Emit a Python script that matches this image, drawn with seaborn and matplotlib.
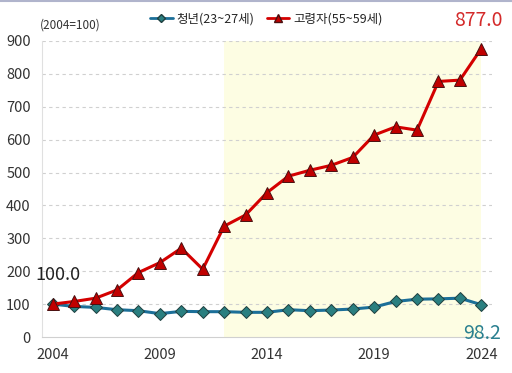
import numpy as np
import pandas as pd
import matplotlib
matplotlib.use("Agg")
import matplotlib.pyplot as plt
import seaborn as sns
from matplotlib.lines import Line2D

# -------------------------------
# DATOS (2004=100)

years = list(range(2004, 2025))
youth = [100.0, 93, 90, 83, 80, 71, 78, 77, 77, 75, 75, 83, 80, 82, 85, 91,
         108, 115, 116, 118, 98.2]
elderly = [100.0, 108, 118, 143, 196, 226, 270, 206, 337, 371, 439, 489, 507,
           522, 546, 614, 639, 629, 777, 781, 877.0]
series_names = ["청년(23~27세)", "고령자(55~59세)"]
year_labels = ["2004", "2009", "2014", "2019", "2024"]
yticks = list(range(0, 1000, 100))

df = pd.DataFrame({
    "idx": list(range(len(years))) * 2,
    "value": youth + elderly,
    "group": [series_names[0]] * len(years) + [series_names[1]] * len(years),
})

# -------------------------------
# GRÁFICA

sns.set_style("white")
plt.rcParams["font.family"] = ["Noto Sans CJK KR", "DejaVu Sans"]

blue_line = "#1c6f98"
blue_mark = "#2a7f80"
red_line = "#d40000"
red_mark = "#c00000"

fig = plt.figure(figsize=(5.12, 3.73), dpi=100)
ax = fig.add_axes([0.082, 0.0965, 0.879, 0.7936])

# zona sombreada 2012-2024
ax.axvspan(8, 20, ymin=0, ymax=1, color="#fdfde3", zorder=0, lw=0)

sns.lineplot(data=df[df.group == series_names[0]], x="idx", y="value", ax=ax,
             color=blue_line, lw=2.2, marker="D", markersize=6,
             markerfacecolor=blue_mark, markeredgecolor="#1f3f3f",
             markeredgewidth=0.7, zorder=3, legend=False)
sns.lineplot(data=df[df.group == series_names[1]], x="idx", y="value", ax=ax,
             color=red_line, lw=2.2, marker="^", markersize=8,
             markerfacecolor=red_mark, markeredgecolor="#4a1010",
             markeredgewidth=0.7, zorder=4, legend=False)

ax.set_xlim(-0.5, 20.5)
ax.set_ylim(0, 900)
ax.set_yticks(yticks)
ax.set_yticklabels([str(v) for v in yticks], fontsize=10.5, color="#333333")
ax.set_xticks([years.index(int(y)) for y in year_labels])
ax.set_xticklabels(year_labels, fontsize=10.5, color="#333333")
ax.set_xticks(np.arange(-0.5, 21, 1), minor=True)
ax.tick_params(axis="x", which="major", length=0, pad=8)
ax.tick_params(axis="x", which="minor", length=4, color="#d0d0d0", width=0.8)
ax.tick_params(axis="y", length=0, pad=8)
ax.set_xlabel("")
ax.set_ylabel("")

for v in yticks[1:]:
    ax.axhline(v, color="#d0d0d0", lw=0.8, ls=(0, (3, 3)), zorder=1)

for s in ["top", "right"]:
    ax.spines[s].set_visible(False)
ax.spines["left"].set_color("#e0e0e0")
ax.spines["bottom"].set_color("#d0d0d0")

# etiquetas
ax.text(-0.83, 188, "100.0", fontsize=13, color="#222222", ha="left", va="center")
fig.text(0.982, 0.945, "877.0", fontsize=14, color="#d42a2a", ha="right", va="center")
fig.text(0.978, 0.105, "98.2", fontsize=14, color="#2a8090", ha="right", va="center")
fig.text(0.078, 0.933, "(2004=100)", fontsize=8.5, color="#333333", ha="left", va="center")

handles = [
    Line2D([], [], color=blue_line, lw=2, marker="D", markersize=4,
           markerfacecolor=blue_mark, markeredgecolor="#1f3f3f"),
    Line2D([], [], color=red_line, lw=2, marker="^", markersize=6,
           markerfacecolor=red_mark, markeredgecolor="#4a1010"),
]
fig.legend(handles, series_names, loc="center", bbox_to_anchor=(0.52, 0.95),
           ncol=2, frameon=False, fontsize=9, handlelength=1.8,
           columnspacing=1.0, handletextpad=0.3)

# borde superior del recuadro
fig.add_artist(Line2D([0, 1], [0.997, 0.997], transform=fig.transFigure,
                      color="#b0b4cc", lw=1.5))

fig.savefig("out.png", dpi=100)
